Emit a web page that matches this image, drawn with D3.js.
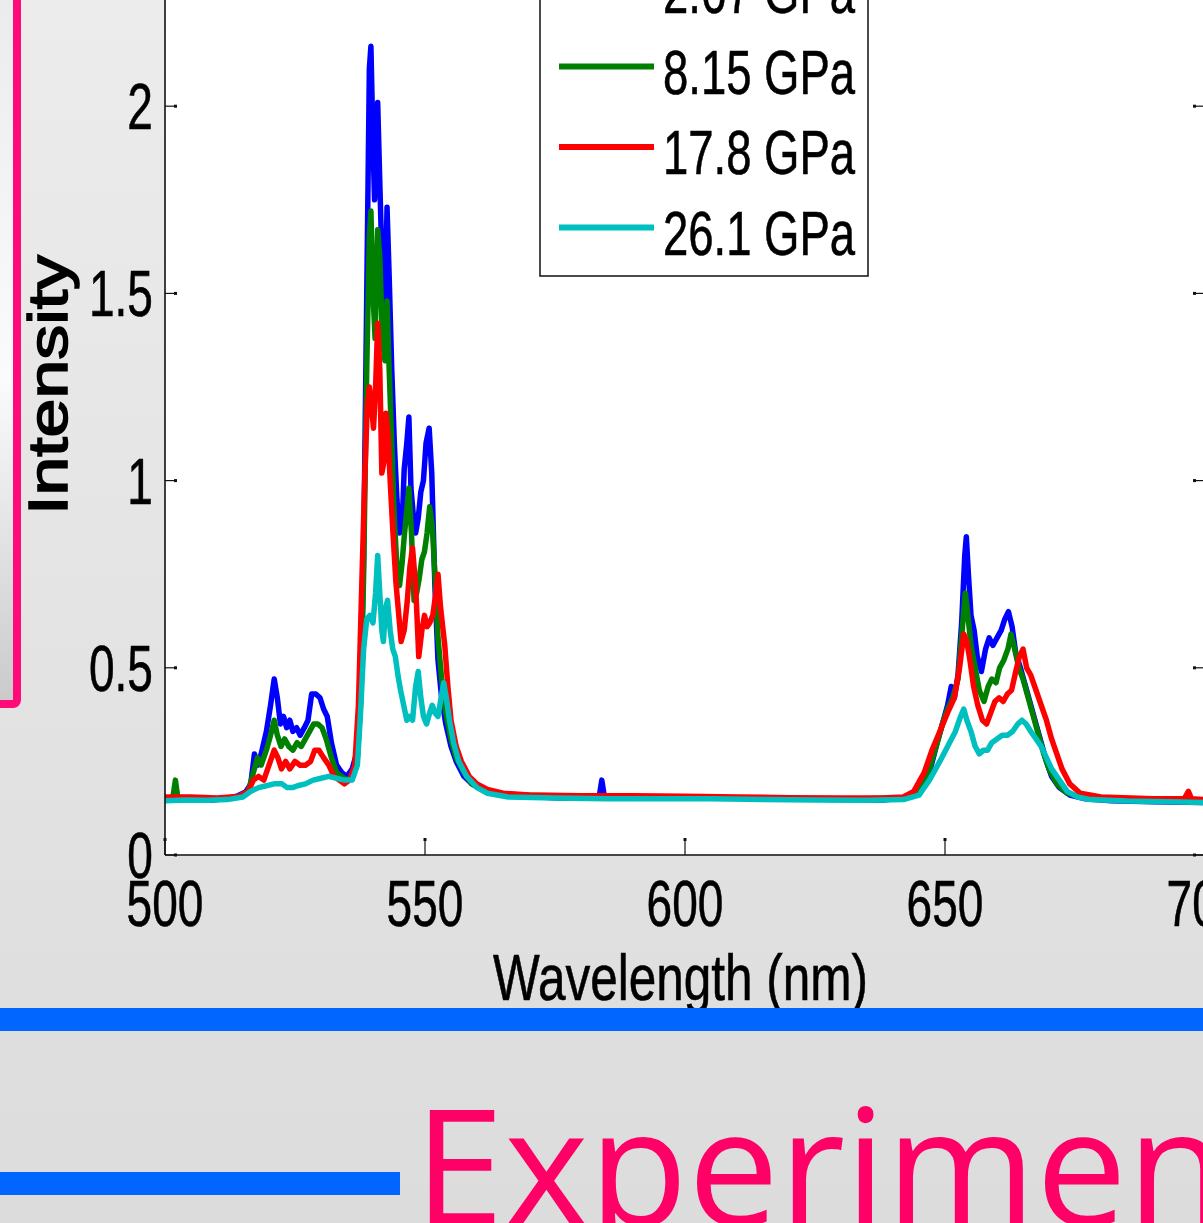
<!DOCTYPE html>
<html>
<head>
<meta charset="utf-8">
<script src="https://cdn.jsdelivr.net/npm/d3@7/dist/d3.min.js"></script>
<style>
  html, body { margin: 0; padding: 0; background: #e0e0e0; }
  svg { display: block; }
</style>
</head>
<body>
<svg id="chart" width="1203" height="1223"></svg>
<script>
// Photoluminescence spectra at several pressures: [wavelength (nm), intensity]
const spectrum267 = [[500,0.150],[503,0.148],[506,0.150],[509,0.147],[512,0.152],[514,0.158],[515.5,0.168],[516.5,0.19],[517.2,0.27],[517.8,0.24],[518.5,0.27],[519.5,0.33],[520.3,0.40],[521,0.47],[521.6,0.42],[522.2,0.35],[522.8,0.37],[523.4,0.34],[524,0.36],[524.6,0.33],[525.3,0.34],[526,0.32],[526.8,0.34],[527.5,0.36],[528.2,0.43],[529,0.43],[529.8,0.42],[530.5,0.39],[531.2,0.37],[532,0.30],[533,0.24],[534,0.22],[535,0.21],[536,0.23],[537,0.28],[537.6,0.42],[538.2,0.8],[538.8,1.5],[539.3,2.1],[539.6,2.16],[540,1.9],[540.3,1.75],[540.6,1.85],[540.9,2.01],[541.3,1.8],[541.8,1.55],[542.3,1.45],[542.7,1.73],[543.1,1.55],[543.6,1.3],[544.1,1.1],[544.6,0.95],[545.1,0.86],[545.6,0.88],[546,1.03],[546.5,1.1],[546.9,1.17],[547.3,0.98],[547.8,0.9],[548.2,0.86],[548.7,0.9],[549.2,0.97],[549.7,1.0],[550.2,1.1],[550.8,1.14],[551.3,1.02],[551.9,0.72],[552.5,0.52],[553.2,0.42],[554,0.35],[555,0.29],[556,0.25],[557.5,0.21],[559,0.19],[561,0.175],[564,0.165],[568,0.158],[572,0.155],[576,0.152],[580,0.153],[583.5,0.155],[584,0.2],[584.5,0.155],[590,0.155],[600,0.152],[610,0.152],[620,0.15],[630,0.148],[638,0.147],[642,0.152],[645,0.17],[647,0.22],[648.5,0.3],[649.5,0.35],[650.5,0.4],[651.2,0.45],[651.8,0.42],[652.5,0.48],[653.2,0.62],[653.8,0.8],[654.1,0.85],[654.5,0.75],[655,0.64],[655.6,0.6],[656.2,0.53],[657,0.49],[657.8,0.55],[658.5,0.58],[659.2,0.56],[660,0.58],[660.8,0.6],[661.5,0.63],[662.2,0.65],[662.9,0.61],[663.6,0.54],[664.5,0.5],[665.5,0.45],[666.5,0.4],[667.5,0.35],[668.5,0.3],[669.5,0.25],[670.5,0.21],[672,0.18],[674,0.16],[677,0.15],[682,0.145],[690,0.142],[700,0.14]];

const spectrum815 = [[500,0.150],[501.5,0.152],[502,0.2],[502.5,0.15],[506,0.15],[510,0.148],[514,0.155],[516,0.17],[517,0.22],[517.8,0.26],[518.5,0.24],[519.5,0.28],[520.3,0.32],[521,0.36],[521.6,0.32],[522.3,0.29],[523,0.31],[523.8,0.29],[524.6,0.28],[525.4,0.30],[526.2,0.29],[527,0.31],[527.8,0.33],[528.6,0.35],[529.4,0.35],[530.2,0.34],[531,0.31],[532,0.26],[533,0.22],[534,0.21],[535,0.2],[536,0.21],[537,0.26],[537.6,0.4],[538.2,0.75],[538.8,1.3],[539.3,1.65],[539.6,1.72],[540,1.5],[540.4,1.38],[540.9,1.67],[541.3,1.6],[541.8,1.38],[542.3,1.32],[542.7,1.48],[543.1,1.3],[543.6,1.1],[544.1,0.9],[544.6,0.77],[545.1,0.72],[545.6,0.78],[546,0.85],[546.5,0.92],[546.9,0.98],[547.4,0.86],[547.9,0.68],[548.4,0.7],[548.9,0.74],[549.4,0.79],[549.9,0.81],[550.4,0.86],[550.9,0.93],[551.4,0.88],[551.9,0.75],[552.5,0.58],[553.2,0.47],[554,0.38],[555,0.31],[556,0.26],[557.5,0.22],[559,0.19],[561,0.175],[564,0.165],[568,0.16],[575,0.158],[585,0.155],[595,0.153],[605,0.152],[615,0.152],[625,0.15],[635,0.15],[642,0.153],[645,0.175],[647,0.23],[648.5,0.3],[649.5,0.35],[650.5,0.39],[651.5,0.42],[652.5,0.47],[653.3,0.6],[653.9,0.7],[654.4,0.64],[655,0.56],[655.8,0.5],[656.6,0.44],[657.5,0.41],[658.3,0.45],[659,0.47],[659.8,0.46],[660.5,0.5],[661.3,0.52],[662.1,0.55],[662.7,0.59],[663.4,0.55],[664.2,0.5],[665,0.47],[666,0.42],[667,0.37],[668,0.32],[669,0.27],[670,0.23],[671.5,0.19],[673.5,0.165],[676,0.155],[680,0.15],[690,0.145],[700,0.145]];

const spectrum178 = [[500,0.155],[505,0.155],[510,0.152],[514,0.156],[516,0.17],[517,0.2],[518,0.21],[519,0.2],[520,0.24],[521,0.28],[521.7,0.26],[522.4,0.23],[523.2,0.25],[524,0.23],[525,0.25],[526,0.24],[527,0.24],[528,0.25],[528.8,0.28],[529.6,0.28],[530.5,0.26],[531.5,0.24],[532.5,0.21],[533.5,0.2],[534.5,0.19],[535.5,0.2],[536.5,0.24],[537.2,0.4],[537.8,0.7],[538.4,1.0],[538.9,1.2],[539.3,1.25],[539.7,1.2],[540.1,1.14],[540.5,1.25],[540.9,1.42],[541.3,1.3],[541.7,1.02],[542.1,1.05],[542.5,1.18],[542.9,1.12],[543.3,1.0],[543.8,0.87],[544.4,0.73],[544.9,0.65],[545.4,0.57],[546,0.6],[546.6,0.68],[547.1,0.77],[547.6,0.82],[548.2,0.72],[548.8,0.53],[549.4,0.6],[549.9,0.64],[550.4,0.61],[550.9,0.62],[551.5,0.64],[552.1,0.7],[552.5,0.75],[553,0.66],[553.8,0.56],[554.4,0.45],[555,0.36],[556,0.29],[557,0.25],[558.5,0.21],[560,0.19],[562,0.175],[565,0.165],[570,0.16],[580,0.158],[590,0.158],[600,0.157],[610,0.155],[620,0.153],[630,0.152],[638,0.152],[642,0.155],[644,0.17],[646,0.22],[647.5,0.28],[649,0.33],[650.5,0.38],[651.8,0.42],[652.8,0.5],[653.6,0.59],[654.2,0.57],[654.8,0.52],[655.5,0.45],[656.3,0.4],[657.2,0.36],[658,0.35],[658.8,0.38],[659.6,0.41],[660.4,0.42],[661.2,0.41],[662,0.43],[662.8,0.44],[663.6,0.49],[664.3,0.53],[665,0.55],[665.7,0.5],[666.5,0.48],[667.5,0.44],[668.5,0.4],[669.5,0.36],[670.5,0.31],[671.5,0.27],[672.5,0.23],[674,0.19],[676,0.165],[680,0.155],[690,0.15],[696,0.15],[696.8,0.17],[697.4,0.15],[700,0.148]];

const spectrum261 = [[500,0.145],[504,0.147],[508,0.146],[512,0.148],[515,0.155],[516.5,0.17],[518,0.18],[519.5,0.185],[521,0.19],[522.5,0.19],[523.5,0.18],[524.5,0.18],[525.5,0.185],[527,0.19],[528.5,0.2],[530,0.205],[531.5,0.21],[533,0.205],[534.5,0.2],[536,0.2],[537,0.24],[537.6,0.38],[538.2,0.55],[538.8,0.63],[539.4,0.64],[540,0.62],[540.5,0.7],[540.9,0.8],[541.3,0.7],[541.7,0.6],[542,0.57],[542.4,0.66],[542.8,0.68],[543.3,0.6],[543.8,0.55],[544.3,0.53],[544.8,0.48],[545.3,0.44],[545.9,0.4],[546.5,0.36],[547,0.37],[547.6,0.36],[548.2,0.45],[548.7,0.49],[549.2,0.42],[549.7,0.37],[550.3,0.35],[550.9,0.38],[551.4,0.4],[551.9,0.38],[552.5,0.37],[553.1,0.42],[553.6,0.46],[554.1,0.42],[554.7,0.36],[555.5,0.3],[556.5,0.25],[558,0.21],[560,0.18],[562,0.165],[566,0.155],[575,0.152],[585,0.15],[595,0.15],[605,0.15],[615,0.148],[625,0.147],[635,0.146],[642,0.148],[645,0.16],[647,0.2],[649,0.25],[650.5,0.29],[652,0.33],[653,0.37],[653.6,0.39],[654.2,0.36],[655,0.33],[655.8,0.29],[656.6,0.27],[657.4,0.28],[658.2,0.28],[659,0.3],[660,0.31],[661,0.32],[662,0.32],[663,0.33],[664,0.35],[664.8,0.36],[665.6,0.35],[666.5,0.33],[667.5,0.31],[668.5,0.29],[669.5,0.26],[670.5,0.23],[672,0.2],[673.5,0.17],[675.5,0.155],[678,0.148],[685,0.144],[693,0.142],[700,0.14]];

const seriesNames  = ["2.67 GPa", "8.15 GPa", "17.8 GPa", "26.1 GPa"];
const seriesColors = ["#0000ff", "#008000", "#ff0000", "#00bfbf"];
const seriesData   = [spectrum267, spectrum815, spectrum178, spectrum261];

const xTicks = [500, 550, 600, 650, 700];
const yTicks = [0, 0.5, 1, 1.5, 2];
const yTickLabels = ["0", "0.5", "1", "1.5", "2"];

const svg = d3.select("#chart");
const W = 1203, H = 1223;

// ---- slide background ----
const defs = svg.append("defs");
const bg = defs.append("linearGradient").attr("id", "bgGrad").attr("x1", 0).attr("y1", 0).attr("x2", 0).attr("y2", 1);
bg.append("stop").attr("offset", "0%").attr("stop-color", "#ececec");
bg.append("stop").attr("offset", "100%").attr("stop-color", "#dcdcdc");
svg.append("rect").attr("width", W).attr("height", H).attr("fill", "url(#bgGrad)");

// side panel with pink border on the left
const side = defs.append("linearGradient").attr("id", "sideGrad").attr("x1", 0).attr("y1", 0).attr("x2", 0).attr("y2", 1);
side.append("stop").attr("offset", "0%").attr("stop-color", "#ebebeb");
side.append("stop").attr("offset", "55%").attr("stop-color", "#fbfbfb");
side.append("stop").attr("offset", "100%").attr("stop-color", "#cacaca");
svg.append("rect").attr("x", -40).attr("y", -20).attr("width", 57).attr("height", 724)
  .attr("rx", 4).attr("fill", "url(#sideGrad)")
  .attr("stroke", "#ff0a78").attr("stroke-width", 8);

// ---- plot area ----
const plot = { left: 165, right: 1205, top: -81, bottom: 855 };
const x = d3.scaleLinear().domain([500, 700]).range([plot.left, plot.right]);
const y = d3.scaleLinear().domain([0, 2.5]).range([plot.bottom, plot.top]);

svg.append("rect").attr("x", plot.left).attr("y", plot.top)
  .attr("width", plot.right - plot.left).attr("height", plot.bottom - plot.top)
  .attr("fill", "#ffffff");

defs.append("clipPath").attr("id", "plotClip").append("rect")
  .attr("x", plot.left).attr("y", plot.top)
  .attr("width", plot.right - plot.left).attr("height", plot.bottom - plot.top);

const line = d3.line().x(d => x(d[0])).y(d => y(d[1]));
const gLines = svg.append("g").attr("clip-path", "url(#plotClip)");
seriesData.forEach((s, i) => {
  gLines.append("path").datum(s)
    .attr("d", line)
    .attr("fill", "none")
    .attr("stroke", seriesColors[i])
    .attr("stroke-width", 5.5)
    .attr("stroke-linejoin", "round")
    .attr("stroke-linecap", "round");
});

// axes frame
const frame = svg.append("g").attr("stroke", "#111").attr("fill", "none");
frame.append("line").attr("x1", plot.left).attr("x2", plot.left).attr("y1", plot.top).attr("y2", plot.bottom).attr("stroke-width", 1.6);
frame.append("line").attr("x1", plot.left).attr("x2", plot.right).attr("y1", plot.bottom).attr("y2", plot.bottom).attr("stroke-width", 1.6);
frame.append("line").attr("x1", plot.right).attr("x2", plot.right).attr("y1", plot.top).attr("y2", plot.bottom).attr("stroke-width", 1.6);

// ticks (inward)
xTicks.forEach(t => {
  frame.append("line").attr("x1", x(t)).attr("x2", x(t)).attr("y1", plot.bottom).attr("y2", plot.bottom - 16).attr("stroke-width", 1.2);
  frame.append("rect").attr("x", x(t) - 1.5).attr("y", plot.bottom - 17).attr("width", 3).attr("height", 3).attr("fill", "#111").attr("stroke", "none");
});
yTicks.forEach(t => {
  frame.append("line").attr("x1", plot.left).attr("x2", plot.left + 11).attr("y1", y(t)).attr("y2", y(t)).attr("stroke-width", 1.2);
  frame.append("rect").attr("x", plot.left + 9).attr("y", y(t) - 1.5).attr("width", 3).attr("height", 3).attr("fill", "#111").attr("stroke", "none");
  frame.append("line").attr("x1", plot.right).attr("x2", plot.right - 11).attr("y1", y(t)).attr("y2", y(t)).attr("stroke-width", 1.2);
  frame.append("rect").attr("x", plot.right - 12).attr("y", y(t) - 1.5).attr("width", 3).attr("height", 3).attr("fill", "#111").attr("stroke", "none");
});

// tick labels (condensed sans)
const fontStack = "'Liberation Sans', Arial, sans-serif";
const tickFont = 64, squeeze = 0.72;
xTicks.forEach(t => {
  svg.append("text")
    .attr("transform", `translate(${x(t)},926) scale(${squeeze},1)`)
    .attr("text-anchor", "middle")
    .attr("font-family", fontStack).attr("font-size", tickFont).attr("fill", "#000")
    .attr("stroke", "#000").attr("stroke-width", 0.6)
    .text(t);
});
yTicks.forEach((t, i) => {
  svg.append("text")
    .attr("transform", `translate(153,${y(t) + 23}) scale(${squeeze},1)`)
    .attr("text-anchor", "end")
    .attr("font-family", fontStack).attr("font-size", tickFont).attr("fill", "#000")
    .attr("stroke", "#000").attr("stroke-width", 0.6)
    .text(yTickLabels[i]);
});

// axis titles
svg.append("text")
  .attr("x", 493).attr("y", 1000)
  .attr("textLength", 375).attr("lengthAdjust", "spacingAndGlyphs")
  .attr("font-family", fontStack).attr("font-size", 65).attr("fill", "#000")
  .attr("stroke", "#000").attr("stroke-width", 0.6)
  .text("Wavelength (nm)");

svg.append("text")
  .attr("transform", "translate(67,515) rotate(-90)")
  .attr("textLength", 260).attr("lengthAdjust", "spacingAndGlyphs")
  .attr("font-family", fontStack).attr("font-size", 55).attr("fill", "#000")
  .attr("stroke", "#000").attr("stroke-width", 1.6)
  .text("Intensity");

// ---- legend ----
const leg = svg.append("g");
leg.append("rect").attr("x", 540).attr("y", -60).attr("width", 328).attr("height", 336)
  .attr("fill", "#fff").attr("stroke", "#111").attr("stroke-width", 1.5);
seriesNames.forEach((name, i) => {
  const ly = -14 + i * 80.5;
  leg.append("line").attr("x1", 559).attr("x2", 654).attr("y1", ly).attr("y2", ly)
    .attr("stroke", seriesColors[i]).attr("stroke-width", 6);
  leg.append("text")
    .attr("x", 663).attr("y", ly + 27)
    .attr("textLength", 192).attr("lengthAdjust", "spacingAndGlyphs")
    .attr("font-family", fontStack).attr("font-size", 63).attr("fill", "#000")
    .attr("stroke", "#000").attr("stroke-width", 0.6)
    .text(name);
});

// ---- slide decorations below the chart ----
svg.append("rect").attr("x", 0).attr("y", 1008).attr("width", W).attr("height", 23).attr("fill", "#0066ff");
svg.append("rect").attr("x", 0).attr("y", 1172).attr("width", 400).attr("height", 23).attr("fill", "#0066ff");
svg.append("text")
  .attr("x", 414).attr("y", 1225)
  .attr("font-family", "'Open Sans', 'Noto Sans', sans-serif")
  .attr("font-size", 162).attr("fill", "#ff0066")
  .text("Experiment");
</script>
</body>
</html>
